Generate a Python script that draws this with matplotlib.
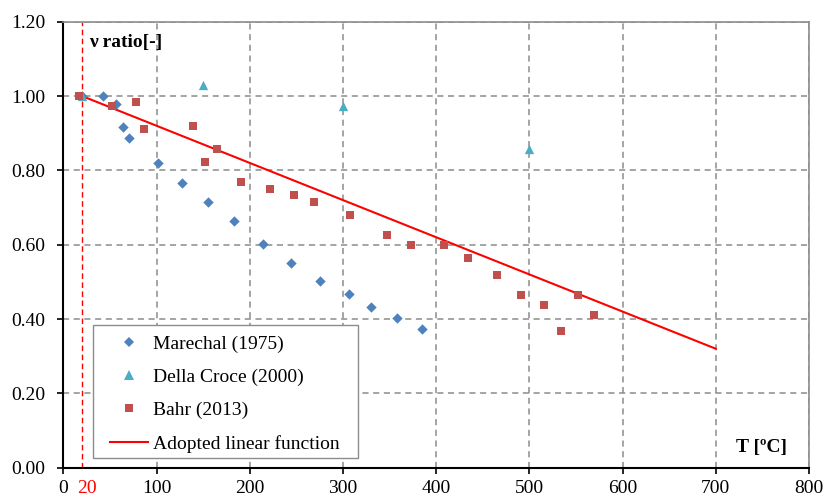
import matplotlib
matplotlib.use("Agg")
import matplotlib.pyplot as plt
from matplotlib.lines import Line2D
from matplotlib.patches import Rectangle

plt.rcParams['font.family'] = ['Liberation Serif', 'DejaVu Serif']

# Data
marechal_T = [20, 43, 56, 64, 70, 102, 127, 155, 183, 214, 244, 275, 306, 330, 358, 385]
marechal_v = [1.00, 1.00, 0.979, 0.918, 0.888, 0.819, 0.766, 0.714, 0.663, 0.602, 0.550, 0.502, 0.467, 0.433, 0.402, 0.373]

dellacroce_T = [20, 150, 300, 500]
dellacroce_v = [1.00, 1.03, 0.973, 0.857]

bahr_T = [17, 52, 78, 87, 139, 152, 165, 191, 222, 247, 269, 308, 347, 373, 408, 434,
          465, 491, 516, 534, 552, 569]
bahr_v = [1.00, 0.974, 0.983, 0.911, 0.920, 0.822, 0.857, 0.769, 0.750, 0.733, 0.715,
          0.679, 0.626, 0.599, 0.599, 0.563, 0.518, 0.465, 0.439, 0.367, 0.465, 0.412]

line_T = [20, 700]
line_v = [1.00, 0.32]

x_ticks = [0, 100, 200, 300, 400, 500, 600, 700, 800]
y_ticks = [0.0, 0.2, 0.4, 0.6, 0.8, 1.0, 1.2]

FS = 14

fig = plt.figure(figsize=(8.25, 4.98), dpi=100)
ax = fig.add_axes([0.0768, 0.0609, 0.9038, 0.8955])

ax.set_xlim(0, 800)
ax.set_ylim(0, 1.2)
ax.set_xticks(x_ticks)
ax.set_yticks(y_ticks)
ax.set_yticklabels([f"{v:.2f}" for v in y_ticks])
ax.tick_params(axis='both', labelsize=FS, direction='out', length=4, width=1.2, colors='black')
ax.tick_params(axis='y', pad=9)
ax.tick_params(axis='x', pad=5)

ax.grid(True, color='#8c8c8c', linestyle=(0, (4, 3)), linewidth=1.1)
ax.set_axisbelow(True)

for s in ['top', 'right']:
    ax.spines[s].set_color('#8c8c8c')
    ax.spines[s].set_linewidth(1.2)
for s in ['left', 'bottom']:
    ax.spines[s].set_color('black')
    ax.spines[s].set_linewidth(1.5)

# vertical dashed red at 20
ax.axvline(20, color='#ff0000', linestyle=(0, (4, 2.5)), linewidth=1.0, zorder=2)

ax.plot(line_T, line_v, color='#ff0000', linewidth=1.5, zorder=3)
ax.scatter(marechal_T, marechal_v, marker='D', s=28, color='#4F81BD', zorder=4, linewidths=0)
ax.scatter(dellacroce_T, dellacroce_v, marker='^', s=45, color='#4BACC6', zorder=4, linewidths=0)
ax.scatter(bahr_T, bahr_v, marker='s', s=38, color='#C0504D', zorder=5, linewidths=0)

# red "20" label on the x-axis label row
ax.annotate("20", xy=(25, 0), xycoords=('data', 'axes fraction'),
            xytext=(0, -8.8), textcoords='offset points',
            color='#ff0000', fontsize=FS, ha='center', va='top', annotation_clip=False)

ax.text(28, 1.143, "ν ratio[-]", fontsize=FS, fontweight='bold', ha='left', va='center')
ax.text(776, 0.053, "T [ºC]", fontsize=FS, fontweight='bold', ha='right', va='center')

# legend frame drawn manually
ax.add_patch(Rectangle((0.0394, 0.021), 0.3562, 0.299, transform=ax.transAxes,
                       facecolor='white', edgecolor='#8c8c8c', linewidth=1.0, zorder=6))

handles = [
    Line2D([], [], marker='D', linestyle='none', color='#4F81BD', markersize=5.5, markeredgewidth=0),
    Line2D([], [], marker='^', linestyle='none', color='#4BACC6', markersize=7, markeredgewidth=0),
    Line2D([], [], marker='s', linestyle='none', color='#C0504D', markersize=6, markeredgewidth=0),
    Line2D([], [], color='#ff0000', linewidth=1.5),
]
labels = ["Marechal (1975)", "Della Croce (2000)", "Bahr (2013)", "Adopted linear function"]
leg = ax.legend(handles, labels, loc='upper left', bbox_to_anchor=(0.062, 0.297),
                fontsize=FS, frameon=False, borderpad=0, borderaxespad=0,
                labelspacing=0.8, handlelength=2.0, handletextpad=0.25)
leg.set_zorder(7)

fig.savefig("out.png", dpi=100)
